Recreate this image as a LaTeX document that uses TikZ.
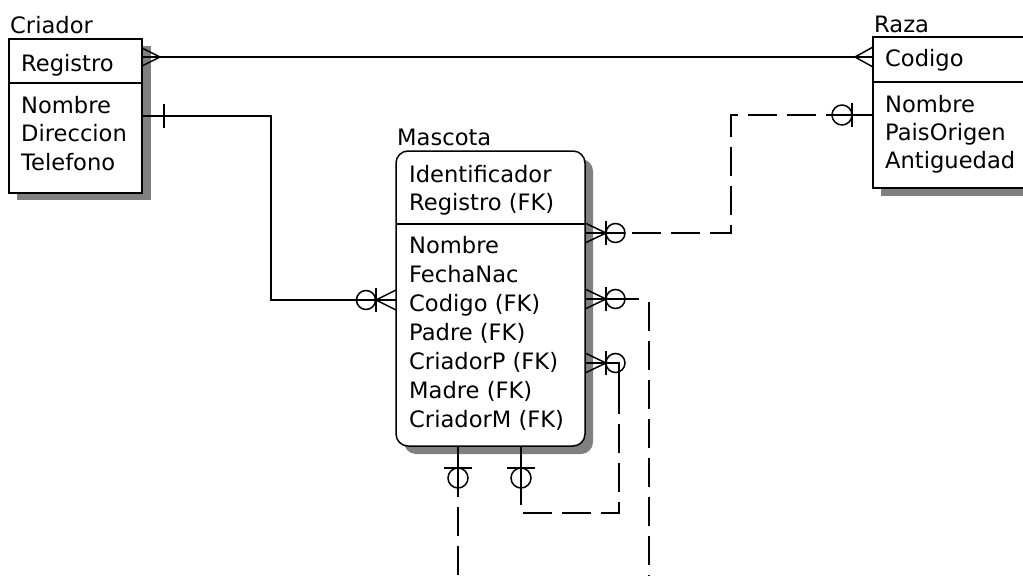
\documentclass[tikz,border=0pt]{standalone}
\usepackage{fontspec}
\setmainfont{DejaVu Sans}

\begin{document}
\begin{tikzpicture}[
    x=1pt, y=-1pt,
    every node/.style={inner sep=0pt},
    entity/.style={draw, fill=white, line width=1.5pt},
    attr/.style={anchor=base west, font=\fontsize{22.6}{28}\selectfont},
    shade/.style={fill=black!50},
    rel/.style={line width=1.5pt},
    opt/.style={rel, dash pattern=on 29pt off 10pt}
  ]
  \useasboundingbox (0,0) rectangle (1023,576);

  % shadows
  \fill[shade] (17,46) rectangle (151,200);
  \fill[shade] (881,45) rectangle (1040,196);
  \fill[shade, rounded corners=12pt] (404,159) rectangle (593,454);

  % entities
  \node[entity, minimum width=133pt, minimum height=154pt] (criador) at (75.5,116) {};
  \node[entity, minimum width=167pt, minimum height=151pt] (raza) at (956.5,112.5) {};
  \node[entity, rounded corners=12pt, minimum width=189pt, minimum height=295pt] (mascota) at (490.5,298.5) {};
  \draw[rel] (9,83) -- (142,83);
  \draw[rel] (873,82) -- (1040,82);
  \draw[rel] (396,224) -- (585,224);

  % titles and attributes
  \node[attr] (t-criador) at (10,33) {Criador};
  \node[attr] (t-raza) at (874,32) {Raza};
  \node[attr] (t-mascota) at (397,145) {Mascota};

  \node[attr] (cr-key) at (21,71) {Registro};
  \foreach \t [count=\i from 0] in {Nombre,Direccion,Telefono}
    \node[attr] (cr-a\i) at (21,113+28.5*\i) {\t};
  \node[attr] (rz-key) at (885,66) {Codigo};
  \foreach \t [count=\i from 0] in {Nombre,PaisOrigen,Antiguedad}
    \node[attr] (rz-a\i) at (885,112+28*\i) {\t};
  \foreach \t [count=\i from 0] in {Identificador,Registro (FK)}
    \node[attr] (ma-k\i) at (409,182+28.5*\i) {\t};
  \foreach \t [count=\i from 0] in {Nombre,FechaNac,Codigo (FK),Padre (FK),CriadorP (FK),Madre (FK),CriadorM (FK)}
    \node[attr] (ma-a\i) at (409,253+29*\i) {\t};

  % connection points
  \coordinate (cr-p1) at (142,57);
  \coordinate (rz-p1) at (873,57);
  \coordinate (cr-p2) at (142,116);
  \coordinate (ma-p0) at (396,300);
  \coordinate (rz-p2) at (873,115);
  \coordinate (ma-p1) at (585,233);
  \coordinate (ma-p2) at (585,299);
  \coordinate (ma-p3) at (585,363);
  \coordinate (ma-b1) at (458,446);
  \coordinate (ma-b2) at (521,446);
  \coordinate (bot1) at (458,576);
  \coordinate (bot2) at (649,576);

  % Criador - Raza
  \draw[rel] (cr-p1) -- (rz-p1);
  \draw[rel] (cr-p1) ++(0,-9) -- ++(18,9) -- ++(-18,9);
  \draw[rel] (rz-p1) ++(0,-10) -- ++(-18,10) -- ++(18,10);

  % Criador - Mascota
  \draw[rel] (cr-p2) -- ++(129,0) |- (ma-p0);
  \draw[rel] (cr-p2) ++(22,-12) -- ++(0,24);
  \draw[rel] (ma-p0) ++(0,-10) -- ++(-20,10) -- ++(20,10);
  \draw[rel] (ma-p0) ++(-20,-12) -- ++(0,24);
  \draw[rel] (ma-p0) ++(-30,0) circle[radius=9.5];

  % crow's feet on the right of Mascota
  \foreach \p in {ma-p1,ma-p2,ma-p3} {
    \draw[rel] (\p) ++(0,-10) -- ++(21,10) -- ++(-21,10);
    \draw[rel] (\p) ++(21,-12) -- ++(0,24);
    \draw[rel] (\p) ++(30.5,0) circle[radius=9.5];
  }
  % bars and circles below Mascota
  \foreach \p in {ma-b1,ma-b2} {
    \draw[rel] (\p) ++(-14,22) -- ++(28,0);
    \draw[rel] (\p) ++(0,32) circle[radius=10];
  }

  % Raza - Mascota
  \draw[rel] (ma-p1) -- ++(40,0);
  \draw[rel] (rz-p2) -- ++(-41,0);
  \draw[rel] (rz-p2) ++(-21,-12) -- ++(0,24);
  \draw[rel] (rz-p2) ++(-31,0) circle[radius=10];
  \draw[opt] (632,233) -- (731,233) -- (731,115) -- (832,115);

  % Mascota - Mascota (Codigo side, going down)
  \draw[rel] (ma-p2) -- ++(54,0);
  \draw[opt] (649,302) -- (bot2);

  % Mascota - Mascota (loop below)
  \draw[rel] (ma-p3) -- ++(34,0) -- ++(0,22);
  \draw[opt] (619,385) -- (619,513) -- (521,513) -- (521,497);
  \draw[rel] (ma-b2) -- ++(0,51);

  % Mascota bottom, going down
  \draw[rel] (ma-b1) -- ++(0,51);
  \draw[opt] (458,507) -- (bot1);
\end{tikzpicture}
\end{document}
